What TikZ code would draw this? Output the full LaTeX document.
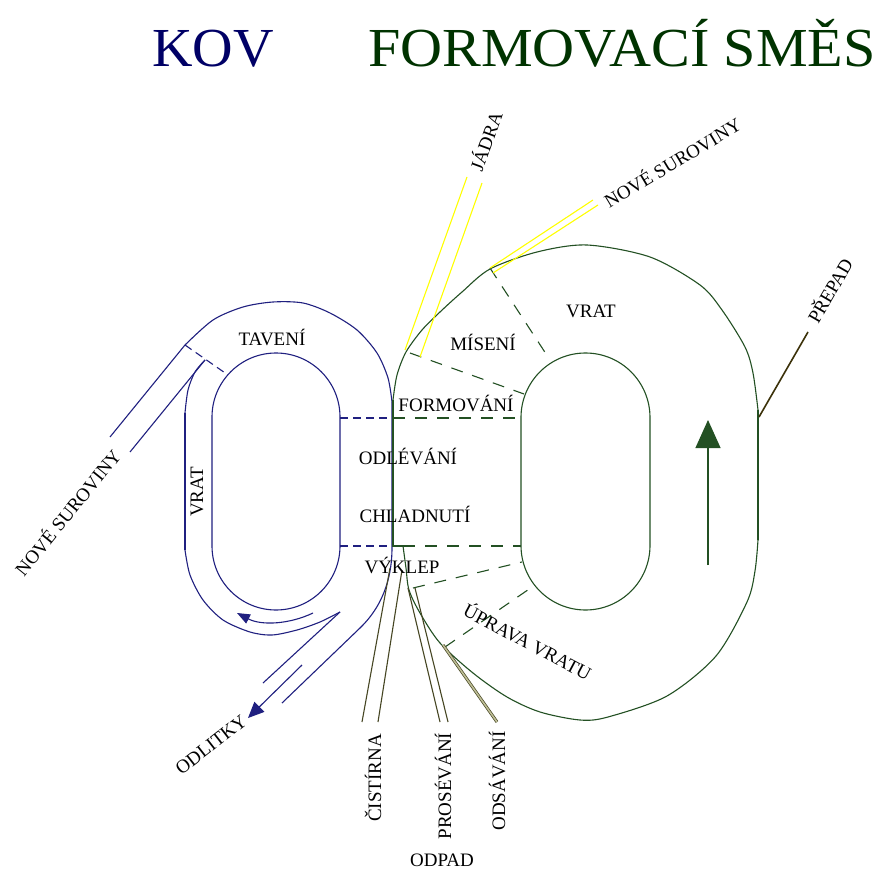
\documentclass[tikz,border=0pt]{standalone}
\usepackage{fontspec}
\setmainfont{Liberation Serif}
\usetikzlibrary{arrows.meta}
\definecolor{navyl}{RGB}{32,32,128}
\definecolor{greenl}{RGB}{35,80,35}
\definecolor{titlenavy}{RGB}{0,0,102}
\definecolor{titlegreen}{RGB}{0,51,0}
\definecolor{olivel}{RGB}{70,70,35}
\definecolor{olivelight}{RGB}{190,190,150}
\definecolor{yell}{RGB}{255,255,0}
\definecolor{prepadl}{RGB}{60,50,10}
\begin{document}
\begin{tikzpicture}[x=1pt,y=-1pt,
  nv/.style={draw=navyl,line width=1.1pt},
  gr/.style={draw=greenl,line width=1.1pt},
  ndash/.style={nv,dash pattern=on 8pt off 5pt},
  gdash/.style={gr,dash pattern=on 12pt off 10pt},
  yl/.style={draw=yell,line width=1.1pt},
  ol/.style={draw=olivel,line width=1.1pt},
  lbl/.style={font=\fontsize{19}{19}\selectfont,inner sep=0pt,text=black},
  ttl/.style={font=\fontsize{55}{55}\selectfont,inner sep=0pt,anchor=base}]
\useasboundingbox (0,0) rectangle (887,869);
\fill[white] (0,0) rectangle (887,869);

% titles
\node[ttl,text=titlenavy] (kov) at (213,67) {\scalebox{1.02}[1]{KOV}};
\node[ttl,text=titlegreen] (smes) at (622,67) {\scalebox{1.057}[1]{FORMOVACÍ SMĚS}};

% ---------------- navy (metal) loop ----------------
\draw[nv] (110,437) -- (185,345);
\draw[nv] plot[smooth] coordinates {(185,345) (213,320) (243,307) (273,302) (303,303) (330,313) (357,330) (377,353) (388,378) (392,402)};
\draw[nv] (392,402) -- (392,548) .. controls (392,572) and (386,603) .. (360,628) -- (282,703);
\draw[ndash] (185,345) -- (228,375);
\draw[nv] (205,360) -- (130,452);
\draw[nv] plot[smooth] coordinates {(205,360) (195,372) (188,390) (185,413)};
\draw[nv] (185,413) -- (185,550);
\draw[nv] plot[smooth] coordinates {(185,550) (190,575) (203,600) (223,620) (250,632) (272,635) (297,630) (320,622) (340,612)};
\draw[nv] (340,612) -- (263,683);
\draw[nv] (212,417) arc[start angle=180,end angle=360,radius=64] -- (340,546) arc[start angle=0,end angle=180,radius=64] -- cycle;
\draw[ndash] (340,418) -- (392,418);
\draw[ndash] (340,546) -- (392,546);
\draw[nv,-{Triangle[length=13pt,width=10pt]}] (313,613) .. controls (290,624) and (262,626) .. (237,613);
\draw[nv,-{Triangle[length=16pt,width=14pt]}] (302,665) -- (248,718);

% ---------------- green (moulding sand) loop ----------------
\draw[gr] (403,546) -- (393,546) -- (393,400);
\draw[gr] plot[smooth] coordinates {(393,400) (397,375) (406,352) (422,330) (440,312) (462,292) (490,269) (537,252) (587,245) (650,257) (700,285) (722,310) (745,347) (753,373) (758,410)};
\draw[gr] (758,410) -- (758,540);
\draw[gr] plot[smooth] coordinates {(758,540) (755,571) (747,602) (716,656) (667,696) (608,717) (580,720) (540,712) (507,697) (473,673) (440,643) (420,613) (409,590) (406,568) (403,546)};
\draw[gr] (521,417.5) arc[start angle=180,end angle=360,radius=64.5] -- (650,545.5) arc[start angle=0,end angle=180,radius=64.5] -- cycle;
\draw[gdash] (393,418) -- (521,418);
\draw[gdash] (403,546) -- (521,546);
\draw[gdash] (410,353) -- (524,394);
\draw[gdash] (490,268) -- (550,360);
\draw[gdash] (413,588) -- (522,562);
\draw[gdash] (445,647) -- (535,585);
\draw[gr,-{Triangle[length=28pt,width=25pt]}] (708,565) -- (708,420);

% ---------------- inputs and outputs ----------------
\draw[yl] (405,350) -- (467,177);
\draw[yl] (420,357) -- (482,183);
\draw[yl] (490,268) -- (593,200);
\draw[yl] (493,273) -- (598,205);
\draw[draw=prepadl,line width=1.6pt] (759,417) -- (808,332);
\draw[ol] (390,568) -- (362,722);
\draw[ol] (402,570) -- (378,722);
\draw[ol] (408,588) -- (440,722);
\draw[ol] (415,588) -- (448,722);
\draw[draw=olivel,line width=0.7pt,double=olivelight,double distance=1.6pt] (443,645) -- (497,722);

% ---------------- labels ----------------
\node[lbl] (taveni) at (272,337) {TAVENÍ};
\node[lbl,rotate=90] (vratl) at (197,492) {VRAT};
\node[lbl,rotate=51] (novel) at (67,512) {NOVÉ SUROVINY};
\node[lbl,rotate=38] (odlitky) at (211,745) {ODLITKY};
\node[lbl] (vratr) at (591,311) {VRAT};
\node[lbl] (miseni) at (483,342) {MÍSENÍ};
\node[lbl] (formovani) at (456,403) {FORMOVÁNÍ};
\node[lbl] (odlevani) at (408,456) {ODLÉVÁNÍ};
\node[lbl] (chladnuti) at (415,514) {CHLADNUTÍ};
\node[lbl] (vyklep) at (402,565) {VÝKLEP};
\node[lbl,rotate=-28] (uprava) at (528,641) {ÚPRAVA VRATU};
\node[lbl,rotate=90] (cistirna) at (373,778) {ČISTÍRNA};
\node[lbl,rotate=90] (proseva) at (443,786) {PROSÉVÁNÍ};
\node[lbl,rotate=90] (odsava) at (497,781) {ODSÁVÁNÍ};
\node[lbl] (odpad) at (442,860) {ODPAD};
\node[lbl,rotate=70] (jadra) at (485,141) {JÁDRA};
\node[lbl,rotate=31] (nover) at (672,162) {NOVÉ SUROVINY};
\node[lbl,rotate=60] (prepad) at (829,290) {PŘEPAD};
\end{tikzpicture}
\end{document}
